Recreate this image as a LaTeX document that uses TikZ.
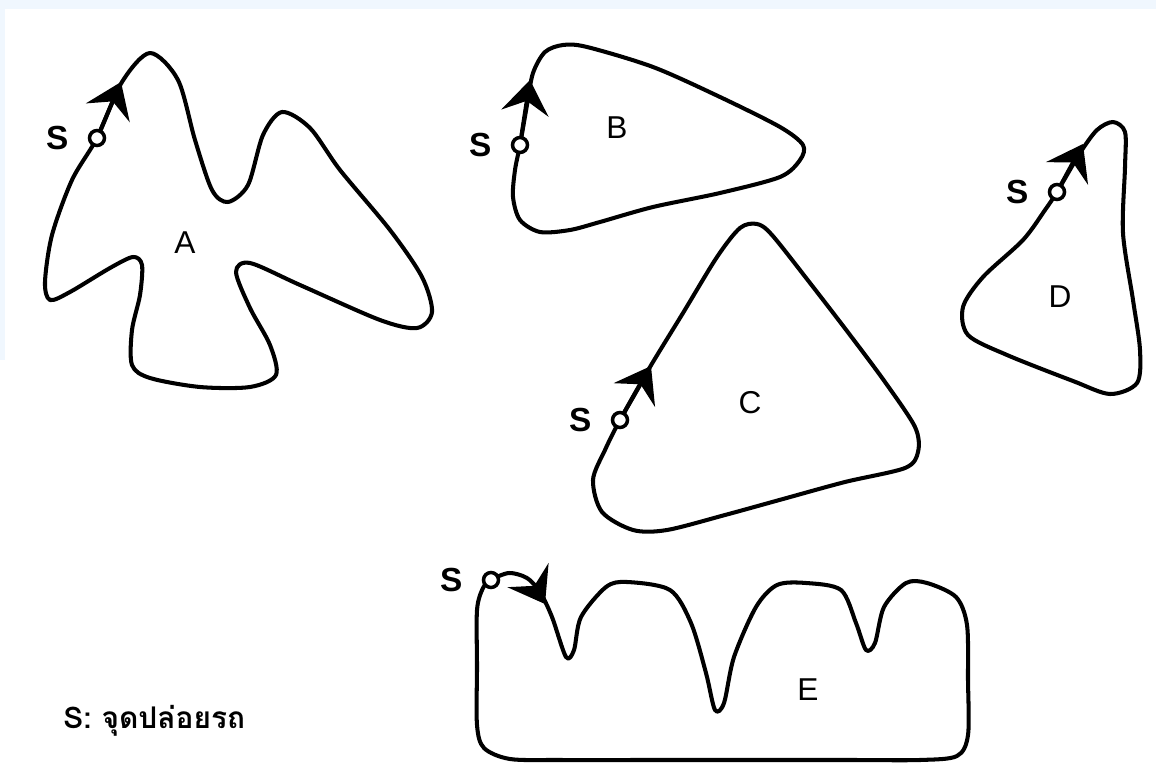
\documentclass[tikz,border=0pt]{standalone}
\usepackage{fontspec}
\setmainfont{Liberation Sans}
\newfontfamily\thaifont[Script=Thai]{Loma}
\usetikzlibrary{arrows.meta,positioning}

\definecolor{edgeblue}{RGB}{240,247,254}

\begin{document}
\begin{tikzpicture}[
  x=0.02cm, y=-0.02cm,
  track/.style={line width=2.3pt, line join=round},
  runarrow/.style={line width=2.3pt, -{Stealth[length=19pt, width=27pt, inset=7pt]}},
  startpt/.style={draw, circle, line width=2pt, fill=white, inner sep=0pt, minimum size=0.3cm},
  slabel/.style={font=\bfseries\fontsize{19}{22}\selectfont, inner sep=0pt},
  letter/.style={font=\fontsize{18}{20}\selectfont}
]
% page and light edge
\fill[white] (0,0) rectangle (1156,763);
\fill[edgeblue] (0,0) rectangle (1156,9);
\fill[edgeblue] (0,0) rectangle (5,360);
\useasboundingbox (0,0) rectangle (1156,763);

% track A
\draw[track] plot[smooth cycle] coordinates {(97,138) (122,82) (150,53) (178,80) (195,140) (212,190) (228,202) (248,185) (263,135) (282,112) (310,128) (340,170) (390,230) (422,277) (432,312) (417,328) (380,320) (300,285) (250,263) (236,272) (250,308) (270,345) (276,375) (250,387) (200,387) (150,378) (132,365) (132,330) (140,295) (142,265) (133,257) (110,268) (70,292) (50,300) (45,282) (52,235) (72,180)};
\coordinate (ta) at (121,82);
\node[startpt] (sa) at (97,138) {};
\draw[runarrow] (sa) -- (ta);
\node[slabel, left=0.38cm of sa] (lsa) {S};
\node[letter] (la) at (185,243) {A};

% track B
\draw[track] plot[smooth cycle] coordinates {(520,145) (527,105) (533,73) (545,52) (563,45) (587,47) (653,67) (720,97) (780,127) (803,145) (800,160) (780,177) (720,193) (653,207) (600,222) (570,230) (540,232) (520,220) (513,197) (515,170)};
\coordinate (tb) at (530,80);
\node[startpt] (sb) at (520,145) {};
\draw[runarrow] (sb) -- (tb);
\node[slabel, left=0.38cm of sb] (lsb) {S};
\node[letter] (lb) at (617,128) {B};

% track C
\draw[track] plot[smooth cycle] coordinates {(620,420) (650,367) (683,313) (717,257) (740,228) (757,224) (772,235) (810,283) (850,335) (885,382) (915,427) (918,452) (905,468) (845,482) (783,499) (725,515) (667,530) (633,530) (602,512) (593,480) (605,450)};
\coordinate (tc) at (651,366);
\node[startpt] (sc) at (620,420) {};
\draw[runarrow] (sc) -- (tc);
\node[slabel, left=0.38cm of sc] (lsc) {S};
\node[letter] (lc) at (750,403) {C};

% track D
\draw[track] plot[smooth cycle] coordinates {(1057,192) (1080,153) (1097,130) (1113,122) (1125,132) (1125,167) (1123,233) (1133,300) (1140,350) (1137,383) (1110,394) (1073,381) (1007,355) (968,335) (963,307) (983,277) (1023,240) (1045,210)};
\coordinate (td) at (1083,144);
\node[startpt] (sd) at (1057,192) {};
\draw[runarrow] (sd) -- (td);
\node[slabel, left=0.38cm of sd] (lsd) {S};
\node[letter] (ld) at (1060,297) {D};

% track E
\draw[track] plot[smooth cycle] coordinates {(491,580) (509,573) (527,578) (540,592) (552,617) (566,657) (574,650) (581,617) (606,587) (627,582) (670,590) (691,623) (706,673) (715,710) (724,703) (734,657) (756,607) (777,585) (806,583) (841,590) (856,623) (866,650) (875,643) (884,607) (906,583) (927,583) (956,597) (967,625) (968,680) (968,735) (957,756) (920,760) (850,760) (750,760) (650,760) (560,760) (510,759) (484,748) (477,725) (477,667) (477,610) (483,588)};
\coordinate (ke) at (535,587);
\coordinate (te) at (545,604);
\node[startpt] (se) at (491,580) {};
\draw[runarrow] (ke) -- (te);
\node[slabel, left=0.38cm of se] (lse) {S};
\node[letter] (le) at (808,690) {E};

% legend
\node[font=\thaifont\bfseries\fontsize{17}{20}\selectfont, anchor=base west, inner sep=0pt] (legend) at (63,728) {S: จุดปล่อยรถ};
\end{tikzpicture}
\end{document}
